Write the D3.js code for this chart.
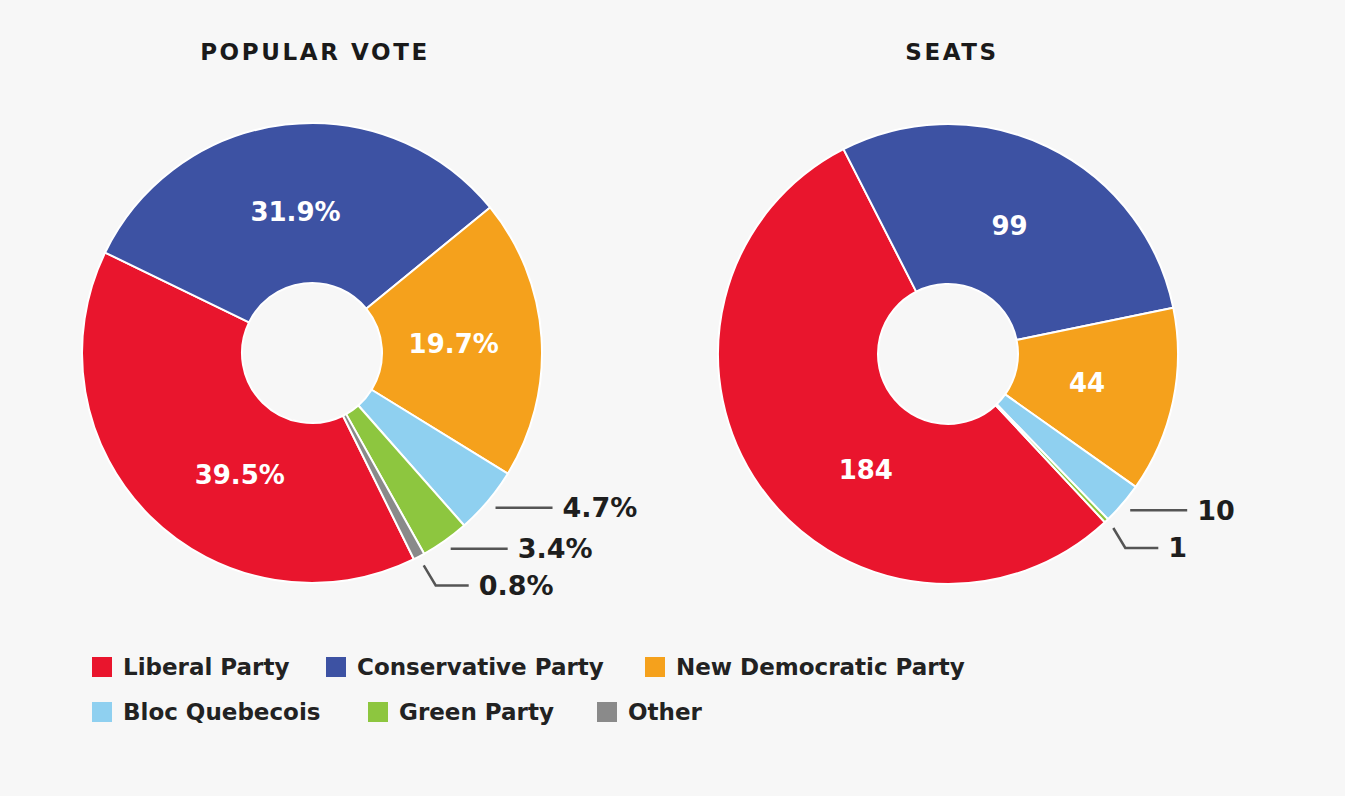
<!DOCTYPE html>
<html>
<head>
<meta charset="utf-8">
<script src="https://cdn.jsdelivr.net/npm/d3@7"></script>
<style>
  html, body { margin: 0; padding: 0; background: #f7f7f7; }
  svg { display: block; }
  text { font-family: "DejaVu Sans", sans-serif; }
</style>
</head>
<body>
<svg id="chart" width="1345" height="796"></svg>
<script>
// ---- data ----
const parties = ["Liberal Party", "Conservative Party", "New Democratic Party", "Bloc Quebecois", "Green Party", "Other"];
const voteShare = [39.5, 31.9, 19.7, 4.7, 3.4, 0.8];
const voteLabels = ["39.5%", "31.9%", "19.7%", "4.7%", "3.4%", "0.8%"];
const seats = [184, 99, 44, 10, 1, 0];
const seatLabels = ["184", "99", "44", "10", "1", "0"];
const chartTitles = ["POPULAR VOTE", "SEATS"];
const partyColors = ["#e9152d", "#3d52a3", "#f5a11c", "#8fd0f0", "#8dc63f", "#8a8a8a"];

// ---- layout ----
const W = 1345, H = 796;
const svg = d3.select("#chart").attr("viewBox", `0 0 ${W} ${H}`);
svg.append("rect").attr("width", W).attr("height", H).attr("fill", "#f7f7f7");

const color = d3.scaleOrdinal().domain(parties).range(partyColors);
const outerR = 230, innerR = 70;
const deg = Math.PI / 180;

const charts = [
  { title: chartTitles[0], values: voteShare, labels: voteLabels, cx: 312, cy: 353, start: 153.7 * deg, titleX: 315 },
  { title: chartTitles[1], values: seats, labels: seatLabels, cx: 948, cy: 354, start: 137 * deg, titleX: 952 }
];

const arc = d3.arc().innerRadius(innerR).outerRadius(outerR);

charts.forEach(ch => {
  const rows = parties.map((p, i) => ({ party: p, value: ch.values[i], label: ch.labels[i], i }));
  const pie = d3.pie().sort(null).value(d => d.value)
    .startAngle(ch.start).endAngle(ch.start + 2 * Math.PI);
  const arcs = pie(rows);

  // title
  svg.append("text")
    .attr("x", ch.titleX).attr("y", 60)
    .attr("text-anchor", "middle")
    .attr("font-size", 23).attr("font-weight", "bold")
    .attr("letter-spacing", "2.6px")
    .attr("fill", "#1a1a1a")
    .text(ch.title);

  const g = svg.append("g").attr("transform", `translate(${ch.cx},${ch.cy})`);

  g.selectAll("path.slice")
    .data(arcs.filter(a => a.data.value > 0))
    .join("path")
    .attr("class", "slice")
    .attr("d", arc)
    .attr("fill", d => color(d.data.party))
    .attr("stroke", "#ffffff")
    .attr("stroke-width", 2)
    .attr("stroke-linejoin", "round");

  // inside labels for the three big parties
  arcs.filter(a => a.data.i < 3).forEach(a => {
    const f = a.data.i === 0 ? 0.4 : 0.5;
    const ang = a.startAngle + f * (a.endAngle - a.startAngle);
    const r = 142;
    g.append("text")
      .attr("x", r * Math.sin(ang))
      .attr("y", -r * Math.cos(ang))
      .attr("text-anchor", "middle")
      .attr("dominant-baseline", "central")
      .attr("font-size", 26).attr("font-weight", "bold")
      .attr("fill", "#ffffff")
      .text(a.data.label);
  });

  // callouts for the small parties
  const small = arcs.filter(a => a.data.i >= 3 && a.data.value > 0);
  small.forEach((a, k) => {
    const mid = (a.startAngle + a.endAngle) / 2;
    const r = outerR + 10;
    const x0 = r * Math.sin(mid), y0 = -r * Math.cos(mid);
    let pts, endX, endY;
    const elbow = k === small.length - 1;
    if (elbow) {
      pts = [[x0, y0], [x0 + 12, y0 + 20], [x0 + 45, y0 + 20]];
    } else {
      pts = [[x0, y0], [x0 + 57, y0]];
    }
    endX = pts[pts.length - 1][0]; endY = pts[pts.length - 1][1];
    g.append("path")
      .attr("d", d3.line()(pts))
      .attr("fill", "none")
      .attr("stroke", "#555555")
      .attr("stroke-width", 2.5);
    g.append("text")
      .attr("x", endX + 10).attr("y", endY)
      .attr("dominant-baseline", "central")
      .attr("font-size", 27).attr("font-weight", "bold")
      .attr("fill", "#1e1e1e")
      .text(a.data.label);
  });
});

// ---- legend ----
const legendPos = [
  [92, 667], [326, 667], [645, 667],
  [92, 712], [368, 712], [597, 712]
];
const lg = svg.append("g");
parties.forEach((p, i) => {
  const [x, y] = legendPos[i];
  lg.append("rect")
    .attr("x", x).attr("y", y - 10)
    .attr("width", 20).attr("height", 20)
    .attr("fill", color(p));
  lg.append("text")
    .attr("x", x + 31).attr("y", y)
    .attr("dominant-baseline", "central")
    .attr("font-size", 23).attr("font-weight", "bold")
    .attr("fill", "#222222")
    .text(p);
});
</script>
</body>
</html>
